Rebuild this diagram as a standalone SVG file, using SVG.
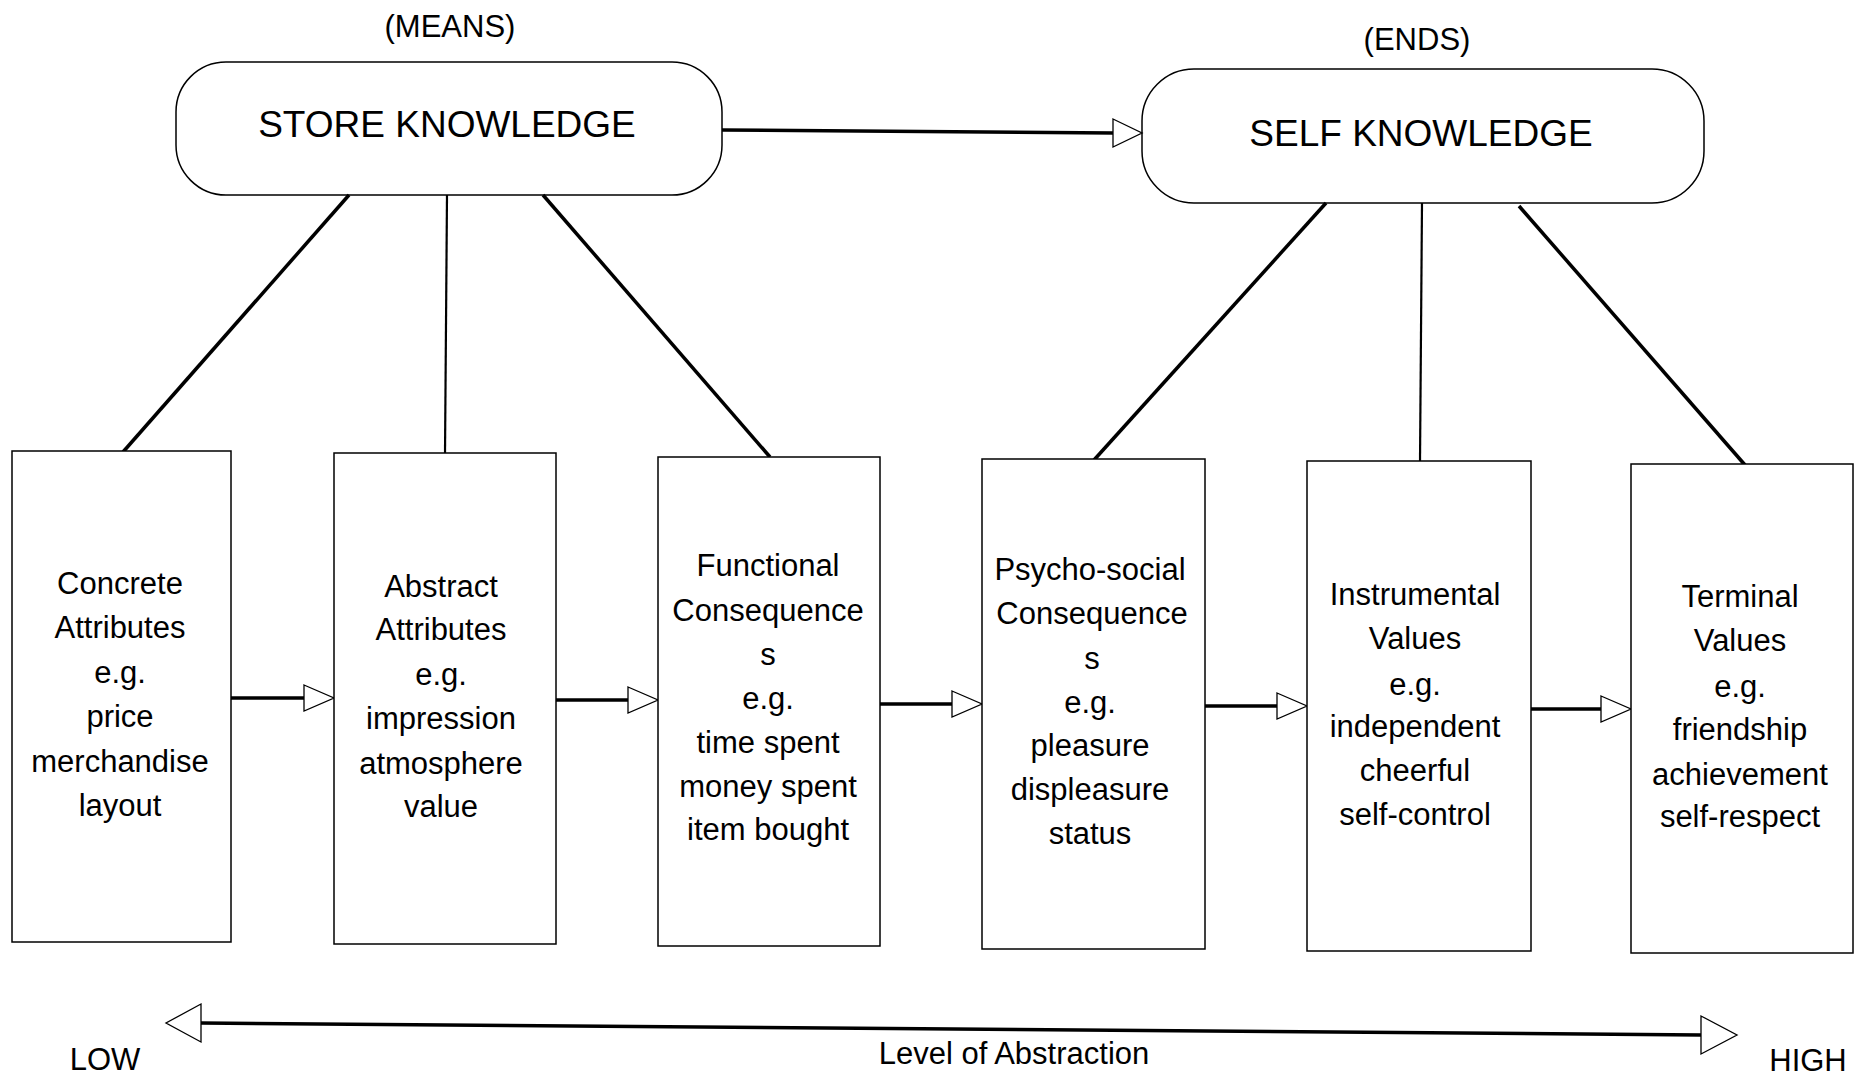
<svg xmlns="http://www.w3.org/2000/svg" width="1855" height="1080" viewBox="0 0 1855 1080">
<style>
text{font-family:"Liberation Sans",Arial,sans-serif;fill:#000;text-anchor:middle}
.t{font-size:31px}
.big{font-size:37px}
.box{fill:#fff;stroke:#000;stroke-width:1.5}
.rr{fill:#fff;stroke:#000;stroke-width:1.5}
.ln{stroke:#000;stroke-width:3.5;fill:none}
.lv{stroke:#000;stroke-width:2.2;fill:none}
.ar{stroke:#000;stroke-width:3.5;fill:none}
.head{fill:#fff;stroke:#000;stroke-width:1.3}
</style>
<rect width="1855" height="1080" fill="#fff"/>
<text class="t" x="450" y="37">(MEANS)</text>
<text class="t" x="1417" y="50">(ENDS)</text>
<g id="store-knowledge">
<rect class="rr" x="176" y="62" width="546" height="133" rx="50" ry="50"/>
<text class="big" x="447" y="137">STORE KNOWLEDGE</text>
</g>
<g id="self-knowledge">
<rect class="rr" x="1142" y="69" width="562" height="134" rx="52" ry="52"/>
<text class="big" x="1421" y="146">SELF KNOWLEDGE</text>
</g>
<g id="connectors">
<line class="ar" x1="722" y1="130" x2="1114" y2="133"/>
<polygon class="head" points="1113,119 1142,133 1113,147"/>
<line class="ln" x1="349" y1="195" x2="123" y2="452"/>
<line class="lv" x1="447" y1="195" x2="445" y2="454"/>
<line class="ln" x1="543" y1="195" x2="770" y2="457"/>
<line class="ln" x1="1326" y1="203" x2="1094" y2="460"/>
<line class="lv" x1="1422" y1="203" x2="1420" y2="462"/>
<line class="ln" x1="1519" y1="206" x2="1745" y2="465"/>
<line class="ar" x1="231" y1="698" x2="304" y2="698"/>
<polygon class="head" points="304,685 334,698 304,711"/>
<line class="ar" x1="556" y1="700" x2="628" y2="700"/>
<polygon class="head" points="628,687 658,700 628,713"/>
<line class="ar" x1="880" y1="704" x2="952" y2="704"/>
<polygon class="head" points="952,691 982,704 952,717"/>
<line class="ar" x1="1205" y1="706" x2="1277" y2="706"/>
<polygon class="head" points="1277,693 1307,706 1277,719"/>
<line class="ar" x1="1531" y1="709" x2="1601" y2="709"/>
<polygon class="head" points="1601,696 1631,709 1601,722"/>
<line class="ar" x1="201" y1="1023" x2="1701" y2="1035"/>
<polygon class="head" points="201,1004 166,1023 201,1042"/>
<polygon class="head" points="1701,1016 1737,1035 1701,1054"/>
</g>
<g id="concrete-attributes">
<rect class="box" x="12" y="451" width="219" height="491"/>
<text class="t" x="120" y="594">Concrete</text>
<text class="t" x="120" y="638">Attributes</text>
<text class="t" x="120" y="683">e.g.</text>
<text class="t" x="120" y="727">price</text>
<text class="t" x="120" y="772">merchandise</text>
<text class="t" x="120" y="816">layout</text>
</g>
<g id="abstract-attributes">
<rect class="box" x="334" y="453" width="222" height="491"/>
<text class="t" x="441" y="597">Abstract</text>
<text class="t" x="441" y="640">Attributes</text>
<text class="t" x="441" y="685">e.g.</text>
<text class="t" x="441" y="729">impression</text>
<text class="t" x="441" y="774">atmosphere</text>
<text class="t" x="441" y="817">value</text>
</g>
<g id="functional-consequences">
<rect class="box" x="658" y="457" width="222" height="489"/>
<text class="t" x="768" y="576">Functional</text>
<text class="t" x="768" y="621">Consequence</text>
<text class="t" x="768" y="665">s</text>
<text class="t" x="768" y="709">e.g.</text>
<text class="t" x="768" y="753">time spent</text>
<text class="t" x="768" y="797">money spent</text>
<text class="t" x="768" y="840">item bought</text>
</g>
<g id="psycho-social-consequences">
<rect class="box" x="982" y="459" width="223" height="490"/>
<text class="t" x="1090" y="580">Psycho-social</text>
<text class="t" x="1092" y="624">Consequence</text>
<text class="t" x="1092" y="669">s</text>
<text class="t" x="1090" y="713">e.g.</text>
<text class="t" x="1090" y="756">pleasure</text>
<text class="t" x="1090" y="800">displeasure</text>
<text class="t" x="1090" y="844">status</text>
</g>
<g id="instrumental-values">
<rect class="box" x="1307" y="461" width="224" height="490"/>
<text class="t" x="1415" y="605">Instrumental</text>
<text class="t" x="1415" y="649">Values</text>
<text class="t" x="1415" y="695">e.g.</text>
<text class="t" x="1415" y="737">independent</text>
<text class="t" x="1415" y="781">cheerful</text>
<text class="t" x="1415" y="825">self-control</text>
</g>
<g id="terminal-values">
<rect class="box" x="1631" y="464" width="222" height="489"/>
<text class="t" x="1740" y="607">Terminal</text>
<text class="t" x="1740" y="651">Values</text>
<text class="t" x="1740" y="697">e.g.</text>
<text class="t" x="1740" y="740">friendship</text>
<text class="t" x="1740" y="785">achievement</text>
<text class="t" x="1740" y="827">self-respect</text>
</g>
<text class="t" x="105" y="1070">LOW</text>
<text class="t" x="1014" y="1064">Level of Abstraction</text>
<text class="t" x="1808" y="1071">HIGH</text>
</svg>
